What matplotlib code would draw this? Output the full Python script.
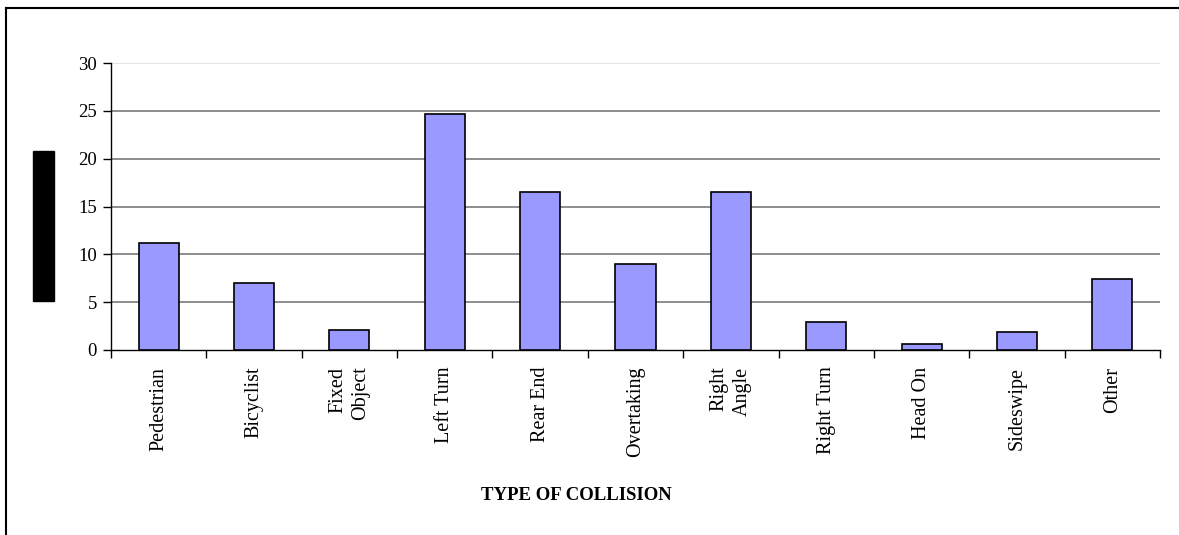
import numpy as np
import matplotlib.pyplot as plt
from matplotlib.lines import Line2D
from matplotlib.patches import Rectangle

categories = ["Pedestrian", "Bicyclist", "Fixed\nObject", "Left Turn", "Rear End",
              "Overtaking", "Right\nAngle", "Right Turn", "Head On", "Sideswipe", "Other"]
values = [11.2, 7.0, 2.1, 24.7, 16.5, 9.0, 16.5, 2.9, 0.6, 1.9, 7.4]
yticks = [0, 5, 10, 15, 20, 25, 30]

plt.rcParams['font.family'] = ['Liberation Serif', 'DejaVu Serif']

fig = plt.figure(figsize=(11.79, 5.35), dpi=100)
ax = fig.add_axes([111 / 1179, 1 - 350 / 535, (1160 - 111) / 1179, (350 - 63) / 535])

x = np.arange(len(categories))
ax.bar(x, values, width=0.42, color='#9999ff', edgecolor='black', linewidth=1.2, zorder=3)

ax.set_xlim(-0.5, len(categories) - 0.5)
ax.set_ylim(0, 30)
ax.set_yticks(yticks)
ax.set_yticklabels([str(t) for t in yticks], fontsize=13.5)

# gridlines: top one pale, rest gray
for t in yticks[1:]:
    ax.axhline(t, color='#e0e0e0' if t == 30 else '#7a7a7a', linewidth=1.2, zorder=1)

# category labels rotated, ticks on the boundaries
ax.set_xticks(np.arange(len(categories) + 1) - 0.5)
ax.set_xticklabels([])
ax.tick_params(axis='x', direction='out', length=6, width=1)
ax.tick_params(axis='y', direction='out', length=6, width=1, pad=4)
for xi, lab in zip(x, categories):
    ax.annotate(lab, (xi, 0), xytext=(0, -12), textcoords='offset points',
                rotation=90, ha='center', va='top', fontsize=14.5,
                multialignment='right', linespacing=1.3)

for s in ['top', 'right']:
    ax.spines[s].set_visible(False)
for s in ['left', 'bottom']:
    ax.spines[s].set_linewidth(1)
    ax.spines[s].set_color('black')

fig.text(576 / 1179, 1 - 495 / 535, "TYPE OF COLLISION", ha='center', va='center',
         fontsize=13.5, fontweight='bold')

# blacked-out y label
fig.patches.append(Rectangle((33 / 1179, 1 - 301 / 535), 21 / 1179, 150 / 535,
                             transform=fig.transFigure, color='black'))

# outer frame (top and left edges)
fig.lines.append(Line2D([6 / 1179, 1], [1 - 8 / 535] * 2, transform=fig.transFigure,
                        color='black', linewidth=1.5))
fig.lines.append(Line2D([6 / 1179] * 2, [0, 1 - 8 / 535], transform=fig.transFigure,
                        color='black', linewidth=1.5))

fig.savefig("out.png", dpi=100)
